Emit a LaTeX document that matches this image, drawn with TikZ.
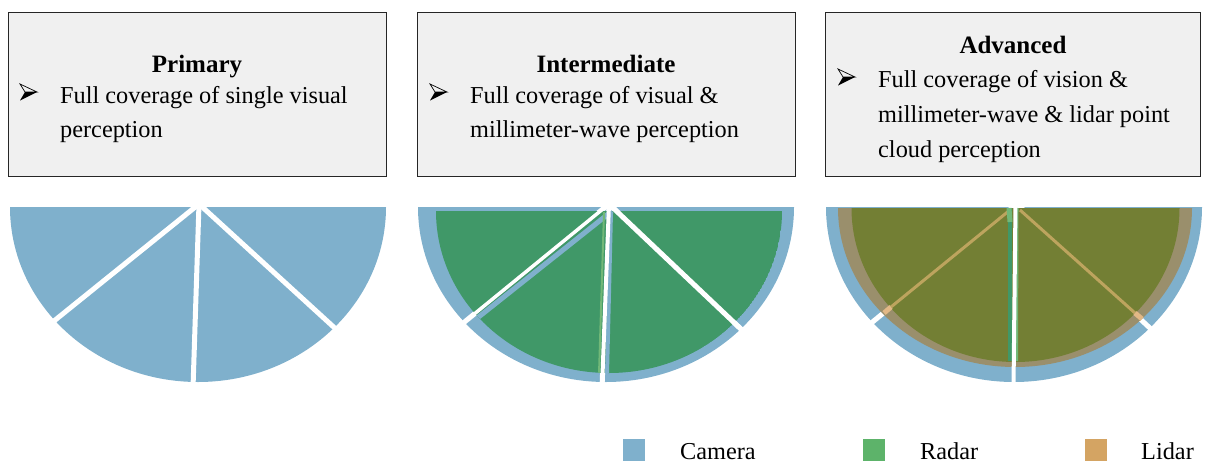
\documentclass[tikz,border=0pt]{standalone}
\usepackage{fontspec}
\setmainfont{Liberation Serif}

\definecolor{boxfill}{HTML}{F0F0F0}
\definecolor{camera}{HTML}{7FB0CC}
\definecolor{radar}{HTML}{409868}
\definecolor{radarlight}{HTML}{72B878}
\definecolor{radarkey}{HTML}{5DB36A}
\definecolor{lidarkey}{HTML}{D4A463}
\definecolor{fused}{HTML}{737F34}
\definecolor{lidarring}{HTML}{9A8F6C}
\definecolor{lidarseam}{HTML}{BDA45E}
\definecolor{lidarseamlight}{HTML}{E2B886}

\begin{document}
\begin{tikzpicture}[x=1pt,y=-1pt,
  level/.style={draw=black!85, line width=1pt, fill=boxfill, anchor=north west,
    minimum height=164pt, inner sep=0pt},
  head/.style={font=\fontsize{25}{30}\selectfont\bfseries, anchor=base, inner sep=0pt},
  body/.style={font=\fontsize{24.3}{29}\selectfont, anchor=base west, inner sep=0pt},
  gap/.style={white, line width=5pt},
  keybox/.style={minimum width=22pt, minimum height=22pt, inner sep=0pt, anchor=north west},
  keytext/.style={font=\fontsize{24.3}{29}\selectfont, anchor=base west, inner sep=0pt},
  arrowbullet/.pic={
    \draw[black, line width=0.7pt, line join=miter] (0,-8) -- (17,0) -- (5,0) -- cycle;
    \fill[black] (5,0) -- (17,0) -- (0,8.5) -- cycle;
  }]
\useasboundingbox (0,0) rectangle (1205,464);

% ---------- level boxes ----------
\node[level, minimum width=378pt] (primary) at (8,12) {};
\node[level, minimum width=378pt] (intermediate) at (417,12) {};
\node[level, minimum width=375pt] (advanced) at (825,12) {};

\node[head] (t1) at (197,72) {Primary};
\pic at (20,92) {arrowbullet};
\node[body] (l11) at (60,103) {Full coverage of single visual};
\node[body] (l12) at (60,137) {perception};

\node[head] (t2) at (606,72) {Intermediate};
\pic at (430,92) {arrowbullet};
\node[body] (l21) at (470,103) {Full coverage of visual \&};
\node[body] (l22) at (470,137) {millimeter-wave perception};

\node[head] (t3) at (1013,53) {Advanced};
\pic at (838,77) {arrowbullet};
\node[body] (l31) at (878,87) {Full coverage of vision \&};
\node[body] (l32) at (878,122) {millimeter-wave \& lidar point};
\node[body] (l33) at (878,157) {cloud perception};

% ---------- primary: camera only ----------
\fill[camera] (10,207) arc[start angle=180, end angle=360, x radius=188pt, y radius=175pt] -- cycle;
\draw[gap] (199,204) -- (49,325);
\draw[gap] (199,204) -- (193,388);
\draw[gap] (199,204) -- (338,331);

% ---------- intermediate: camera + radar ----------
\fill[camera] (418,207) arc[start angle=180, end angle=360, x radius=188pt, y radius=175pt] -- cycle;
\draw[gap] (609,204) -- (462,324);
\draw[gap] (609,204) -- (602,388);
\draw[gap] (609,204) -- (743,331);
\begin{scope}
  \clip (436,211) arc[start angle=180, end angle=360, x radius=173pt, y radius=162pt] -- cycle;
  \fill[radar] (436,211) arc[start angle=180, end angle=360, x radius=173pt, y radius=162pt] -- cycle;
  % radar seams
  \draw[camera, line width=5pt] (612,211) -- (466,327);
  \draw[camera, line width=4pt] (611,212) -- (607,374);
  \draw[radarlight, line width=2pt] (604,212) -- (599,374);
\end{scope}
\draw[white, line width=3.5pt] (609,204) -- (462,324);
\draw[white, line width=4pt] (609,204) -- (602,388);
\draw[white, line width=5pt] (609,204) -- (743,331);

% ---------- advanced: camera + radar + lidar ----------
\fill[camera] (826,207) arc[start angle=180, end angle=360, x radius=188pt, y radius=175pt] -- cycle;
\draw[gap] (1017,204) -- (870,324);
\draw[gap] (1017,204) -- (1152,330);
\fill[lidarring] (838,208) arc[start angle=180, end angle=360, x radius=177pt, y radius=159pt] -- cycle;
\fill[fused] (851.5,208) arc[start angle=180, end angle=360, x radius=164pt, y radius=154pt] -- cycle;
% lidar seams
\draw[lidarseam, line width=3pt] (1010,210) -- (891,307);
\draw[lidarseamlight, line width=5pt] (891,307) -- (884,313);
\draw[lidarseam, line width=3pt] (1020,210) -- (1135,313);
\draw[lidarseamlight, line width=5pt] (1135,313) -- (1142,319);
% radar seam
\draw[radar, line width=4pt] (1010,208) -- (1010,361);
\draw[radarlight, line width=5pt] (1009,208) -- (1010,222);
\draw[radarlight, line width=2pt] (1017.5,208) -- (1017,361);
\draw[white, line width=4pt] (1015.5,204) -- (1013.5,388);

% ---------- legend ----------
\node[keybox, fill=camera] (kc) at (623,439) {};
\node[keytext] (kct) at (680,459) {Camera};
\node[keybox, fill=radarkey] (kr) at (863,439) {};
\node[keytext] (krt) at (920,459) {Radar};
\node[keybox, fill=lidarkey] (kl) at (1085,439) {};
\node[keytext] (klt) at (1141,459) {Lidar};
\end{tikzpicture}
\end{document}
